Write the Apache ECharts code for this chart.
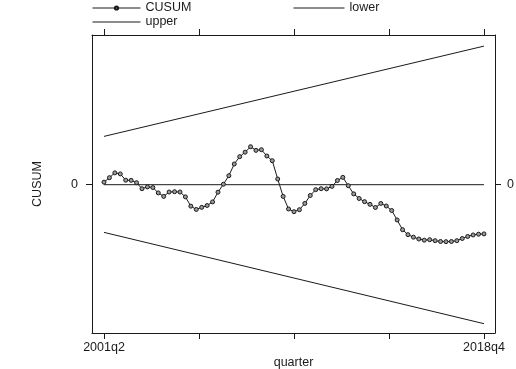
<!DOCTYPE html>
<html>
<head>
<meta charset="utf-8">
<title>CUSUM</title>
<script src="https://cdn.jsdelivr.net/npm/echarts@6/dist/echarts.min.js"></script>
<style>
  html, body { margin: 0; padding: 0; background: #fff; }
  #chart { width: 516px; height: 369px; }
</style>
</head>
<body>
<div id="chart"></div>
<script>
  // quarter index: 0 = 2001q2 ... 70 = 2018q4
  var cusum = [
    0.42, 1.17, 1.97, 1.80, 0.75, 0.72, 0.33, -0.67, -0.37, -0.47,
    -1.37, -1.95, -1.22, -1.17, -1.22, -2.03, -3.58, -4.13, -3.78, -3.47,
    -2.87, -1.25, 0.08, 1.50, 3.45, 4.67, 5.42, 6.33, 5.72, 5.83,
    4.78, 4.00, 0.95, -1.95, -4.05, -4.50, -4.17, -3.12, -1.80, -0.83,
    -0.67, -0.70, -0.28, 0.70, 1.22, -0.17, -1.53, -2.30, -2.83, -3.28,
    -3.80, -3.13, -3.55, -4.30, -5.88, -7.50, -8.33, -8.75, -9.05, -9.25,
    -9.17, -9.33, -9.47, -9.50, -9.47, -9.33, -8.97, -8.63, -8.38, -8.25,
    -8.20
  ]
  // bounds are straight lines, only their ends are given
  var boundX = [0, 70]
  var upper = [8.05, 23.1]
  var lower = [-7.95, -23.17]
  var zeroLine = [0, 0]

  var tickPos = [0, 17.5, 35, 52.5, 70]
  var labelPos = [0, 70]
  var tickLabels = ['2001q2', '2018q4']

  var font = "'Liberation Sans', Arial, sans-serif"
  var ink = '#1a1a1a'

  function pairs(xs, ys) {
    return xs.map(function (x, i) { return [x, ys[i]] })
  }

  var charts = echarts.init(document.getElementById('chart'))
  var xBase = {
    type: 'value',
    min: -2.21,
    max: 72.03,
    axisLine: { show: true, onZero: false, lineStyle: { color: ink, width: 1 } },
    axisTick: { show: true, length: 6, customValues: tickPos, lineStyle: { color: ink } },
    splitLine: { show: false }
  }
  var yBase = {
    type: 'value',
    min: -24.72,
    max: 24.95,
    axisLine: { show: true, onZero: false, lineStyle: { color: ink, width: 1 } },
    axisTick: { show: true, length: 6, customValues: [0], lineStyle: { color: ink } },
    axisLabel: { show: true, customValues: [0], margin: 14, color: ink, fontSize: 12.5, fontFamily: font },
    splitLine: { show: false }
  }
  var legendText = { color: ink, fontSize: 12.5, fontFamily: font, lineHeight: 14 }

  var option = {
    animation: false,
    backgroundColor: '#fff',
    textStyle: { fontFamily: font },
    grid: { left: 92, right: 21, top: 35, bottom: 36, containLabel: false, outerBoundsMode: 'none' },
    legend: [
      {
        data: [
          { name: 'CUSUM' },
          { name: 'upper', itemStyle: { opacity: 0 } }
        ],
        orient: 'vertical',
        left: 92, top: 1, padding: 0,
        itemWidth: 48, itemHeight: 4, itemGap: 0,
        lineStyle: { width: 1 },
        textStyle: legendText
      },
      {
        data: [{ name: 'lower', itemStyle: { opacity: 0 } }],
        orient: 'vertical',
        left: 293, top: 1, padding: 0,
        itemWidth: 51, itemHeight: 4, itemGap: 0,
        lineStyle: { width: 1 },
        textStyle: legendText
      }
    ],
    xAxis: [
      Object.assign({}, xBase, {
        position: 'bottom',
        name: 'quarter',
        nameLocation: 'middle',
        nameGap: 23,
        nameMoveOverlap: false,
        nameTextStyle: { color: ink, fontSize: 12.5, fontFamily: font },
        axisLabel: {
          show: true,
          customValues: labelPos,
          margin: 8,
          color: ink, fontSize: 12.5, fontFamily: font,
          formatter: function (v) { return tickLabels[labelPos.indexOf(v)] }
        }
      }),
      Object.assign({}, xBase, {
        position: 'top',
        axisLabel: { show: false }
      })
    ],
    yAxis: [
      Object.assign({}, yBase, {
        position: 'left',
        name: 'CUSUM',
        nameLocation: 'middle',
        nameGap: 48,
        nameMoveOverlap: false,
        nameRotate: 90,
        nameTextStyle: { color: ink, fontSize: 12.5, fontFamily: font }
      }),
      Object.assign({}, yBase, {
        position: 'right',
        axisLabel: Object.assign({}, yBase.axisLabel, { margin: 12 })
      })
    ],
    series: [
      {
        name: 'CUSUM',
        type: 'line',
        data: pairs(cusum.map(function (v, i) { return i }), cusum),
        symbol: 'circle',
        symbolSize: 4,
        showSymbol: true,
        lineStyle: { color: ink, width: 1 },
        itemStyle: { color: '#9a9a9a', borderColor: ink, borderWidth: 1 },
        z: 3
      },
      {
        name: 'lower',
        type: 'line',
        data: pairs(boundX, lower),
        symbol: 'none',
        lineStyle: { color: ink, width: 1 },
        itemStyle: { color: ink }
      },
      {
        name: 'upper',
        type: 'line',
        data: pairs(boundX, upper),
        symbol: 'none',
        lineStyle: { color: ink, width: 1 },
        itemStyle: { color: ink }
      },
      {
        name: 'zero',
        type: 'line',
        data: pairs(boundX, zeroLine),
        symbol: 'none',
        lineStyle: { color: ink, width: 1 },
        z: 1
      }
    ]
  }
  charts.setOption(option)
  window.addEventListener('resize', function () {
    charts.resize()
  })
</script>
</body>
</html>
